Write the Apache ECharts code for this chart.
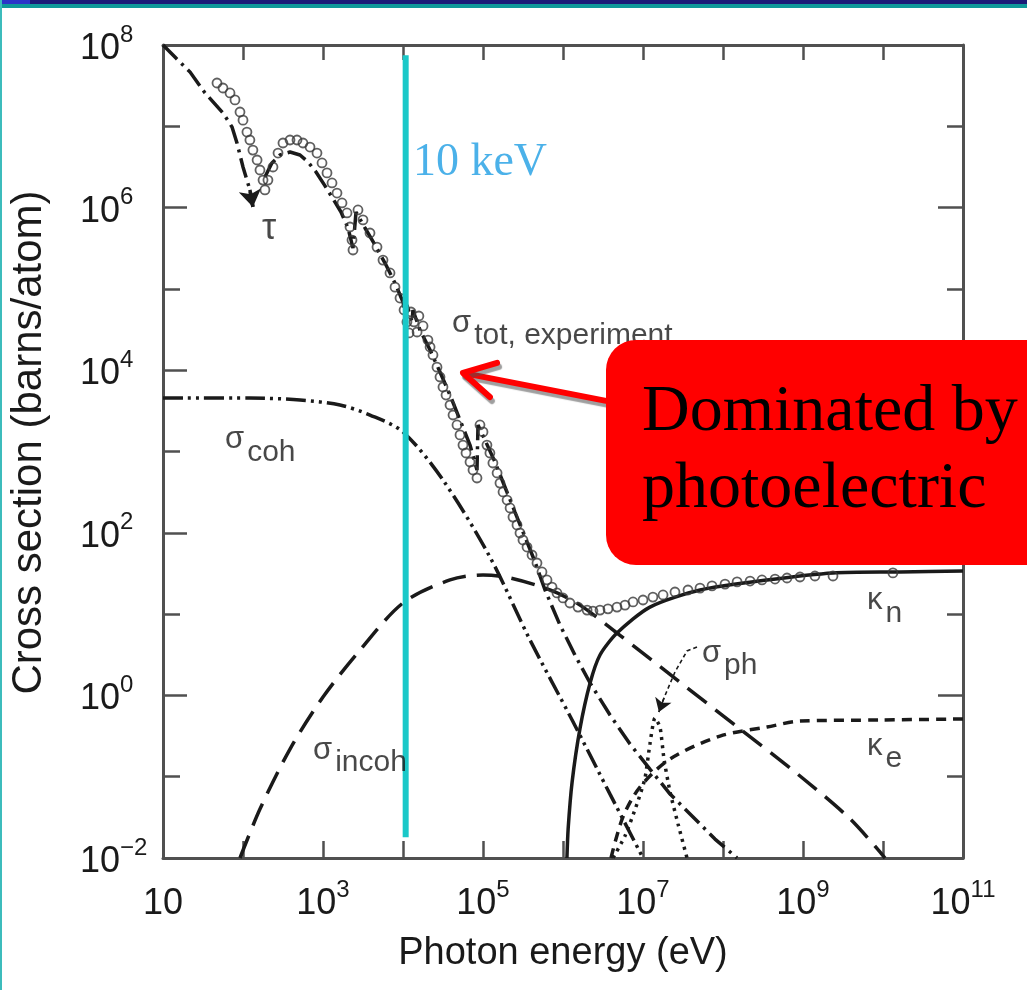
<!DOCTYPE html>
<html>
<head>
<meta charset="utf-8">
<script src="https://cdn.jsdelivr.net/npm/echarts@6/dist/echarts.min.js"></script>
<style>html,body{margin:0;padding:0;background:#fff;}#c{width:1027px;height:990px;}</style>
</head>
<body>
<div id="c"></div>
<script>
// ---- axis ticks / labels ----
const xTickValues = [10,1e2,1e3,1e4,1e5,1e6,1e7,1e8,1e9,1e10,1e11];
const xLabelValues = [10,1e3,1e5,1e7,1e9,1e11];
const yTickValues = [1e-2,1e-1,1,10,1e2,1e3,1e4,1e5,1e6,1e7,1e8];
const yLabelValues = [1e-2,1,1e2,1e4,1e6,1e8];

// ---- curves: [photon energy (eV), cross section (barns/atom)] ----
const tauLow = [[10,1e8],[14.1,7.1e7],[21.8,4.65e7],[33.5,2.57e7],[56.2,1.46e7],[72.9,9.8e6],[84.1,6.23e6],[91.7,4.44e6],[100,3.16e6],[112,2.18e6],[122,1.65e6],[133,1.02e6]];
const tauHigh = [[188,2.38e6],[230,3.54e6],[290,4.44e6],[387,4.83e6],[516,4.44e6],[649,3.64e6],[818,2.74e6],[1059,1.85e6],[1334,1.28e6],[1679,8.83e5],[2054,5.61e5],[2371,3.18e5],[2586,8.83e5],[3350,5.61e5],[4467,3.47e5],[5957,2.08e5],[7943,1.18e5],[1.0e4,6.9e4],[1.09e4,4.14e4],[1.12e4,6.34e4],[1.3e4,3.92e4],[1.33e4,5.5e4],[1.63e4,3.12e4],[2.18e4,1.77e4],[2.9e4,9.5e3],[3.87e4,4.95e3],[5.16e4,2.44e3],[6.88e4,1.2e3],[8.41e4,592],[8.66e4,2.12e3],[1.06e5,1.38e3],[1.41e5,743],[1.88e5,366],[2.51e5,180],[3.35e5,88.8],[4.47e5,43.8],[5.96e5,19.8],[9.17e5,7.34],[1.41e6,3.14],[2.18e6,1.42],[3.87e6,0.574],[6.88e6,0.252],[1.22e7,0.124],[2.18e7,0.0612],[3.87e7,0.0348],[7.94e7,0.0171],[1.5e8,0.01]];
const sigmaCoh = [[10,4.55e3],[122,4.55e3],[516,4.3e3],[1631,3.73e3],[3868,2.81e3],[1e4,1.74e3],[3.16e4,446],[1.22e5,50.4],[3.87e5,4.8],[1.3e6,0.498],[3.87e6,0.061],[1e7,0.01]];
const sigmaIncoh = [[91.7,0.01],[163,0.04],[387,0.219],[1000,0.955],[2900,3.61],[1e4,13.7],[3.87e4,26.3],[1e5,30.3],[2.18e5,27.8],[6.88e5,19.8],[1.63e6,12.9],[4.73e6,5.85],[2.66e7,1.55],[1.63e8,0.386],[9.17e8,0.102],[3.87e9,0.0303],[1.06e10,0.01]];
const kappaN = [[1.12e6,0.01],[1.16e6,0.023],[1.3e6,0.086],[1.63e6,0.39],[2.18e6,1.42],[2.9e6,3.14],[4.73e6,5.85],[1.22e7,12.2],[5.16e7,19.8],[3.55e8,26.3],[2.37e9,32.1],[1.63e10,33.0],[1e11,33.9]];
const kappaE = [[3.98e6,0.01],[5.62e6,0.032],[9.17e6,0.0747],[2.18e7,0.165],[9.17e7,0.316],[3.55e8,0.408],[9.17e8,0.483],[9.17e9,0.498],[1e11,0.513]];
const sigmaPh = [[4.22e6,0.01],[5.96e6,0.0187],[8.41e6,0.0461],[1.06e7,0.0964],[1.22e7,0.252],[1.41e7,0.527],[1.63e7,0.408],[1.83e7,0.165],[2.18e7,0.0648],[2.74e7,0.0263],[3.55e7,0.01]];
const totExp = [[47.3,3.41e7],[56.2,2.96e7],[68.8,2.57e7],[79.4,2.11e7],[91.7,1.5e7],[100,1.19e7],[112,8.5e6],[122,6.78e6],[133,5.1e6],[150,3.85e6],[163,2.9e6],[178,2.18e6],[188,1.65e6],[205,2.18e6],[237,3.16e6],[274,4.69e6],[316,6.23e6],[387,6.78e6],[473,6.78e6],[562,6.23e6],[688,5.56e6],[841,4.69e6],[972,3.54e6],[1122,2.67e6],[1296,2.01e6],[1496,1.51e6],[1728,1.14e6],[1995,8.59e5],[2175,5.77e5],[2304,3.99e5],[2371,3.01e5],[2738,9.35e5],[3162,7.05e5],[3868,4.87e5],[4732,3.27e5],[5623,2.26e5],[6879,1.57e5],[7943,1.05e5],[9173,7.72e4],[1.03e4,5.5e4],[1.12e4,3.92e4],[1.19e4,2.87e4],[1.26e4,5.2e4],[1.37e4,3.92e4],[1.5e4,2.95e4],[1.58e4,4.64e4],[1.78e4,3.5e4],[2.05e4,2.35e4],[2.18e4,1.93e4],[2.37e4,1.54e4],[2.66e4,1.09e4],[2.9e4,8.25e3],[3.16e4,6.21e3],[3.45e4,4.95e3],[3.87e4,3.73e3],[4.22e4,2.81e3],[4.73e4,2.12e3],[5.16e4,1.6e3],[5.62e4,1.2e3],[6.13e4,959],[6.88e4,743],[7.5e4,592],[8.41e4,472],[9.17e4,2.12e3],[1.0e5,1.74e3],[1.12e5,1.2e3],[1.22e5,959],[1.33e5,722],[1.5e5,544],[1.63e5,409],[1.78e5,318],[2.0e5,253],[2.18e5,202],[2.37e5,156],[2.66e5,125],[2.9e5,99.5],[3.16e5,81.5],[3.55e5,66.8],[4.1e5,53.3],[4.73e5,42.5],[5.46e5,33],[6.31e5,26.3],[7.29e5,21.5],[8.41e5,18.2],[1.0e6,15.8],[1.22e6,13.7],[1.54e6,12.2],[2.0e6,11.2],[2.37e6,10.9],[2.9e6,11.2],[3.65e6,11.6],[4.73e6,12.2],[5.96e6,12.9],[7.5e6,14.1],[1.0e7,14.9],[1.33e7,16.2],[1.78e7,17.2],[2.51e7,18.7],[3.65e7,19.8],[5.16e7,20.9],[7.29e7,22.2],[1.06e8,23.4],[1.5e8,24.9],[2.18e8,25.5],[3.07e8,26.3],[4.47e8,27.0],[6.31e8,27.8],[9.17e8,28.6],[1.41e9,29.4],[2.37e9,29.4],[1.33e10,32.1]];

// ---- 10 keV marker line ----
const keVLine = [[1.08e4,7.5e7],[1.08e4,0.018]];

// ---- annotation pointers (data coordinates) ----
const redArrowShaft = [[3.45e6,4.2e3],[5.8e4,9.2e3]];
const redArrowHead = [[1.5e5,1.23e4],[5.62e4,9.25e3],[1.22e5,4.68e3]];
const phPointer = [[4.73e7,3.94],[3.55e7,3.52],[2.51e7,1.94],[1.83e7,0.93],[1.58e7,0.625]];

// ---- curve labels ----
const curveLabels = [
  {value:[173,5.94e5], text:'{t|τ}'},
  {value:[4.1e4,4.14e4], text:'{g|σ}{s|tot, experiment}'},
  {value:[59.6,1.51e3], text:'{g|σ}{s|coh}'},
  {value:[750,0.232], text:'{g|σ}{s|incoh}'},
  {value:[6.31e9,15.8], text:'{g|κ}{s|n}'},
  {value:[5.46e7,3.61], text:'{g|σ}{s|ph}'},
  {value:[6.31e9,0.26], text:'{g|κ}{s|e}'},
  {value:[1.33e4,3.85e6], text:'{k|10 keV}'}
];

const SANS = '"Liberation Sans", Arial, Helvetica, sans-serif';
const SERIF = '"Liberation Serif", "Times New Roman", serif';
const INK = '#1a1a1a';
const AX = '#505050';

function expStr(e){ return e < 0 ? '\u2212' + (-e) : String(e); }
const tickRich = {
  b:{fontSize:36, lineHeight:44, verticalAlign:'bottom', fontFamily:SANS, color:INK},
  s:{fontSize:24, lineHeight:24, verticalAlign:'top', fontFamily:SANS, color:INK}
};
function powLabel(v){
  const e = Math.round(Math.log10(v));
  return e === 1 ? '{b|10}' : '{b|10}{s|' + expStr(e) + '}';
}

const chart = echarts.init(document.getElementById('c'), null, {renderer:'canvas'});

function curve(name, data, dash, extra){
  return Object.assign({
    name, type:'line', data, showSymbol:false, symbol:'none', clip:true, z:3,
    smooth:0.3,
    lineStyle:{color:INK, width:3.5, type:dash}
  }, extra || {});
}
function arrowTip(name, pts, size, width, z){
  return {
    name, type:'lines', coordinateSystem:'cartesian2d', z:z,
    symbol:['none','arrow'], symbolSize:size,
    lineStyle:{color:INK, width:width, type:'solid', opacity:1, curveness:0},
    data:[{coords:pts.slice(pts.length-2)}]
  };
}
function tickAxis(kind, pos, ticks, len, showLine){
  const lo = kind === 'x' ? 10 : 0.01, hi = kind === 'x' ? 1e11 : 1e8;
  return {
    type:'log', logBase:10, min:lo, max:hi, position:pos,
    axisLine:{show:showLine, lineStyle:{color:AX, width:3}},
    axisTick:{show:true, inside:true, length:len, customValues:ticks, lineStyle:{color:AX, width:2.5}},
    axisLabel:{show:false}, splitLine:{show:false}
  };
}

const option = {
  animation:false,
  backgroundColor:'#fff',
  grid:{left:163, right:64, top:45, bottom:132, containLabel:false, outerBoundsMode:'none'},
  xAxis:[{
    type:'log', logBase:10, min:10, max:1e11, position:'bottom',
    axisLine:{show:true, lineStyle:{color:AX, width:3}},
    axisTick:{show:true, inside:true, length:17, customValues:xTickValues, lineStyle:{color:AX, width:2.5}},
    splitLine:{show:false}, minorTick:{show:false},
    axisLabel:{margin:20, rich:tickRich, customValues:xLabelValues, formatter:powLabel},
    name:'Photon energy (eV)', nameLocation:'middle', nameGap:77,
    nameTextStyle:{fontSize:38, fontFamily:SANS, color:INK}
  },
    tickAxis('x','top', xTickValues, 15, true)
  ],
  yAxis:[{
    type:'log', logBase:10, min:0.01, max:1e8, position:'left',
    axisLine:{show:true, lineStyle:{color:AX, width:3}},
    axisTick:{show:true, inside:true, length:17, customValues:yTickValues, lineStyle:{color:AX, width:2.5}},
    splitLine:{show:false}, minorTick:{show:false},
    axisLabel:{margin:83, align:'left', rich:tickRich, customValues:yLabelValues, formatter:powLabel},
    name:'Cross section (barns/atom)', nameLocation:'middle', nameGap:113, nameRotate:90,
    nameTextStyle:{fontSize:42, fontFamily:SANS, color:INK, padding:[0,0,0,18]}
  },
    tickAxis('y','right', yTickValues, 16, true),
    tickAxis('y','left', yLabelValues, 24, false),
    tickAxis('y','right', yLabelValues, 25, false)
  ],
  series:[
    {
      name:'tau-low', type:'lines', coordinateSystem:'cartesian2d', polyline:true, z:3,
      lineStyle:{color:INK, width:3.5, type:[20,6,3,6], opacity:1},
      data:[{coords:tauLow}]
    },
    arrowTip('tau-arrow', tauLow, 17, 3.5, 3),
    curve('tau', tauHigh, [20,6,3,6], {smooth:false}),
    curve('coh', sigmaCoh, [20,5,3,5,3,5]),
    curve('incoh', sigmaIncoh, [24,11]),
    curve('kappa_n', kappaN, 'solid', {smooth:0.25}),
    curve('kappa_e', kappaE, [10,7]),
    curve('sigma_ph', sigmaPh, [3,5], {smooth:0.2}),
    {
      name:'tot, experiment', type:'scatter', data:totExp, z:4,
      symbol:'circle', symbolSize:9,
      itemStyle:{color:'rgba(255,255,255,0)', borderColor:'#383838', borderWidth:1.8}
    },
    {
      name:'ph-pointer', type:'lines', coordinateSystem:'cartesian2d', polyline:true, z:5,
      lineStyle:{color:INK, width:1.6, type:[4,3], opacity:1},
      data:[{coords:phPointer}]
    },
    arrowTip('ph-arrow', phPointer, 13, 1.6, 5),
    {
      name:'10 keV', type:'line', data:keVLine, showSymbol:false, symbol:'none', z:6,
      lineStyle:{color:'#1ac8c8', width:6}
    },
    {
      name:'red-arrow', type:'lines', coordinateSystem:'cartesian2d', polyline:true, z:7,
      lineStyle:{color:'#ff0000', width:6, opacity:1, cap:'round', join:'round',
        shadowColor:'rgba(80,80,80,0.55)', shadowOffsetX:2, shadowOffsetY:4, shadowBlur:1},
      data:[{coords:redArrowShaft},{coords:redArrowHead}]
    },
    {
      name:'labels', type:'scatter', data:curveLabels, symbolSize:0, z:8, silent:true,
      label:{show:true, position:'right', distance:0, offset:[0,3],
        formatter:function(p){ return p.data.text; },
        rich:{
          g:{fontSize:31, lineHeight:31, verticalAlign:'top', fontFamily:SANS, color:INK},
          s:{fontSize:30, lineHeight:30, verticalAlign:'top', padding:[13,0,0,3], fontFamily:SANS, color:INK},
          t:{fontSize:36, lineHeight:36, fontFamily:SANS, color:INK},
          k:{fontSize:46, lineHeight:46, fontFamily:SERIF, color:'#1e9ee3'}
        }
      }
    }
  ],
  graphic:[
    {type:'rect', z:100, shape:{x:0,y:0,width:1027,height:4}, style:{fill:'#1b1b78'}},
    {type:'rect', z:100, shape:{x:0,y:0,width:30,height:4}, style:{fill:'#2b35c8'}},
    {type:'rect', z:100, shape:{x:0,y:4,width:1027,height:4}, style:{fill:'#10999a'}},
    {type:'rect', z:100, shape:{x:0,y:0,width:2,height:990}, style:{fill:'#3cbcbc'}},
    {type:'rect', z:100, shape:{x:606,y:340,width:470,height:225,r:30}, style:{fill:'#ff0000'}},
    {type:'text', z:101, x:642, y:413, style:{text:'Dominated by', font:'66px ' + SERIF, fill:'#000', align:'left', verticalAlign:'middle'}},
    {type:'text', z:101, x:642, y:490, style:{text:'photoelectric', font:'66px ' + SERIF, fill:'#000', align:'left', verticalAlign:'middle'}}
  ]
};
chart.setOption(option);
</script>
</body>
</html>
